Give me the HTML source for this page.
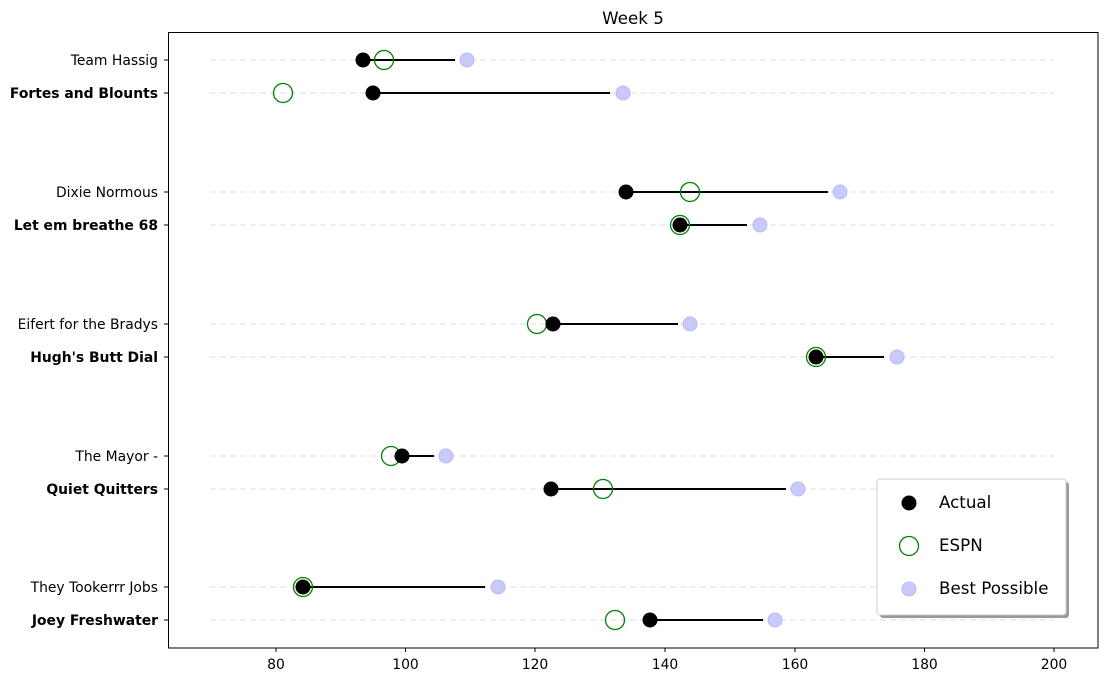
<!DOCTYPE html>
<html><head><meta charset="utf-8"><style>body{margin:0;background:#fff}svg{display:block}text{font-family:"DejaVu Sans","Liberation Sans",sans-serif;}</style></head><body>
<svg width="1108" height="682" viewBox="0 0 1108 682" xmlns="http://www.w3.org/2000/svg">
<rect width="1108" height="682" fill="#fff"/>
<text x="633" y="24" font-size="16.7" text-anchor="middle">Week 5</text>
<g stroke="#e3e3e3" stroke-width="1.2" stroke-dasharray="6,4">
<line x1="210" x2="1054" y1="60" y2="60"/><line x1="210" x2="1054" y1="93" y2="93"/>
<line x1="210" x2="1054" y1="192" y2="192"/><line x1="210" x2="1054" y1="225" y2="225"/>
<line x1="210" x2="1054" y1="324" y2="324"/><line x1="210" x2="1054" y1="357" y2="357"/>
<line x1="210" x2="1054" y1="456" y2="456"/><line x1="210" x2="1054" y1="489" y2="489"/>
<line x1="210" x2="1054" y1="587" y2="587"/><line x1="210" x2="1054" y1="620" y2="620"/>
</g>
<g stroke="#000" stroke-width="2">
<line x1="363" x2="455" y1="60" y2="60"/><line x1="373" x2="610" y1="93" y2="93"/>
<line x1="626" x2="828" y1="192" y2="192"/><line x1="680" x2="747" y1="225" y2="225"/>
<line x1="553" x2="678" y1="324" y2="324"/><line x1="816" x2="884" y1="357" y2="357"/>
<line x1="402" x2="434" y1="456" y2="456"/><line x1="551" x2="786" y1="489" y2="489"/>
<line x1="303" x2="485" y1="587" y2="587"/><line x1="650" x2="763" y1="620" y2="620"/>
</g>
<g fill="none" stroke="green" stroke-width="1.3">
<circle cx="384" cy="60" r="9.5"/><circle cx="283" cy="93" r="9.5"/>
<circle cx="690" cy="192" r="9.5"/><circle cx="680" cy="225" r="9.5"/>
<circle cx="537" cy="324" r="9.5"/><circle cx="816" cy="357" r="9.5"/>
<circle cx="391" cy="456" r="9.5"/><circle cx="603" cy="489" r="9.5"/>
<circle cx="303" cy="587" r="9.5"/><circle cx="615" cy="620" r="9.5"/>
</g>
<g fill="#000">
<circle cx="363" cy="60" r="7.5"/><circle cx="373" cy="93" r="7.5"/>
<circle cx="626" cy="192" r="7.5"/><circle cx="680" cy="225" r="7.5"/>
<circle cx="553" cy="324" r="7.5"/><circle cx="816" cy="357" r="7.5"/>
<circle cx="402" cy="456" r="7.5"/><circle cx="551" cy="489" r="7.5"/>
<circle cx="303" cy="587" r="7.5"/><circle cx="650" cy="620" r="7.5"/>
</g>
<g fill="#c9c9fb" stroke="#b9b9f7" stroke-width="1">
<circle cx="467" cy="60" r="7"/><circle cx="623" cy="93" r="7"/>
<circle cx="840" cy="192" r="7"/><circle cx="760" cy="225" r="7"/>
<circle cx="690" cy="324" r="7"/><circle cx="897" cy="357" r="7"/>
<circle cx="446" cy="456" r="7"/><circle cx="798" cy="489" r="7"/>
<circle cx="498" cy="587" r="7"/><circle cx="775" cy="620" r="7"/>
</g>
<rect x="168.5" y="32.5" width="929.5" height="615.5" fill="none" stroke="#000" stroke-width="1"/>
<g stroke="#000" stroke-width="1">
<line x1="276" x2="276" y1="648" y2="652"/><line x1="405.5" x2="405.5" y1="648" y2="652"/>
<line x1="535" x2="535" y1="648" y2="652"/><line x1="665" x2="665" y1="648" y2="652"/>
<line x1="795" x2="795" y1="648" y2="652"/><line x1="924.5" x2="924.5" y1="648" y2="652"/>
<line x1="1054" x2="1054" y1="648" y2="652"/>
<line x1="164" x2="168.5" y1="60" y2="60"/><line x1="164" x2="168.5" y1="93" y2="93"/>
<line x1="164" x2="168.5" y1="192" y2="192"/><line x1="164" x2="168.5" y1="225" y2="225"/>
<line x1="164" x2="168.5" y1="324" y2="324"/><line x1="164" x2="168.5" y1="357" y2="357"/>
<line x1="164" x2="168.5" y1="456" y2="456"/><line x1="164" x2="168.5" y1="489" y2="489"/>
<line x1="164" x2="168.5" y1="587" y2="587"/><line x1="164" x2="168.5" y1="620" y2="620"/>
</g>
<g font-size="13.9" text-anchor="middle">
<text x="276" y="669">80</text><text x="405.5" y="669">100</text><text x="535" y="669">120</text>
<text x="665" y="669">140</text><text x="795" y="669">160</text><text x="924.5" y="669">180</text><text x="1054" y="669">200</text>
</g>
<g font-size="13.9" text-anchor="end">
<text x="158" y="65">Team Hassig</text>
<text x="158" y="98" font-weight="bold">Fortes and Blounts</text>
<text x="158" y="197">Dixie Normous</text>
<text x="158" y="230" font-weight="bold">Let em breathe 68</text>
<text x="158" y="329">Eifert for the Bradys</text>
<text x="158" y="362" font-weight="bold">Hugh's Butt Dial</text>
<text x="158" y="461">The Mayor -</text>
<text x="158" y="494" font-weight="bold">Quiet Quitters</text>
<text x="158" y="592">They Tookerrr Jobs</text>
<text x="158" y="625" font-weight="bold">Joey Freshwater</text>
</g>
<rect x="880" y="482" width="189" height="136" rx="3" fill="#999"/>
<rect x="877" y="479" width="189" height="136" rx="3" fill="#fff" stroke="#ccc"/>
<circle cx="909" cy="503" r="7.5" fill="#000"/>
<circle cx="909" cy="546" r="9.5" fill="none" stroke="green" stroke-width="1.3"/>
<circle cx="909" cy="589" r="7" fill="#c9c9fb" stroke="#b9b9f7"/>
<g font-size="16.7">
<text x="939" y="508">Actual</text><text x="939" y="551">ESPN</text><text x="939" y="594">Best Possible</text>
</g>
</svg>
</body></html>
